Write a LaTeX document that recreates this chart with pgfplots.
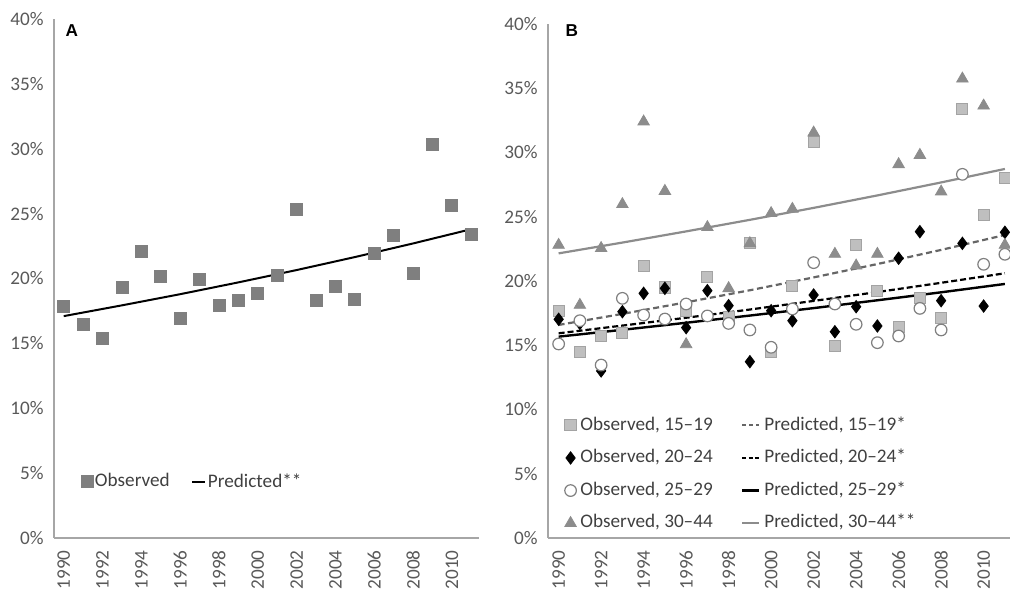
\documentclass[border=0pt]{standalone}
\usepackage{pgfplots}
\pgfplotsset{compat=1.18}
\usepackage{pgfplotstable}
\usepackage{fontspec}
\setmainfont{Carlito}
\newfontfamily\arialfont{Liberation Sans}
\definecolor{axgray}{HTML}{A6A6A6}
\definecolor{tickgray}{HTML}{595959}
\definecolor{leggray}{HTML}{404040}
\definecolor{sqA}{HTML}{7F7F7F}
\definecolor{sqB}{HTML}{BFBFBF}
\definecolor{sqBedge}{HTML}{A3A3A3}
\definecolor{triB}{HTML}{8C8C8C}
\definecolor{circB}{HTML}{7F7F7F}
\definecolor{lineA}{HTML}{666666}
\definecolor{lineD}{HTML}{8C8C8C}

\pgfplotstableread{
year val
1990 17.83
1991 16.5
1992 15.4
1993 19.3
1994 22.05
1995 20.2
1996 16.95
1997 19.96
1998 17.9
1999 18.3
2000 18.85
2001 20.27
2002 25.3
2003 18.3
2004 19.37
2005 18.37
2006 21.95
2007 23.3
2008 20.4
2009 30.3
2010 25.65
2011 23.4
}\obsA

\pgfplotstableread{
year val
1990 17.1
1993 17.93
1996 18.79
1999 19.70
2002 20.65
2005 21.65
2008 22.70
2011 23.80
}\predA

\pgfplotstableread{
year sq di ci tr
1990 17.67 17.02 15.10 22.80
1991 14.50 16.70 16.91 18.13
1992 15.74 13.00 13.46 22.55
1993 15.93 17.61 18.65 25.97
1994 21.19 19.04 17.35 32.40
1995 19.50 19.43 17.04 27.00
1996 17.67 16.37 18.21 15.07
1997 20.29 19.25 17.28 24.18
1998 17.22 18.08 16.70 19.43
1999 22.98 13.72 16.19 22.93
2000 14.50 17.69 14.84 25.27
2001 19.60 16.91 17.82 25.60
2002 30.84 18.91 21.43 31.54
2003 14.94 16.05 18.21 22.10
2004 22.80 18.00 16.63 21.19
2005 19.25 16.50 15.20 22.10
2006 16.40 21.77 15.72 29.08
2007 18.65 23.84 17.87 29.80
2008 17.10 18.47 16.19 26.95
2009 33.36 22.93 28.30 35.74
2010 25.11 18.05 21.30 33.64
2011 28.04 23.79 22.08 22.80
}\obsB

\pgfplotstableread{
year p1 p2 p3 p4
1990 16.58 15.93 15.67 22.15
1993 17.44 16.53 16.20 22.99
1996 18.34 17.14 16.75 23.86
1999 19.28 17.78 17.31 24.76
2002 20.28 18.45 17.89 25.69
2005 21.32 19.14 18.50 26.66
2008 22.42 19.86 19.12 27.67
2011 23.58 20.60 19.77 28.72
}\predB

\pgfplotsset{
  markimg/.style={legend image code/.code={\draw[mark repeat=2,mark phase=2,##1] plot coordinates {(0pt,0pt) (3pt,0pt) (6pt,0pt)};}},
  lineimg/.style={legend image code/.code={\draw[##1] (0pt,0pt) -- (8.5pt,0pt);}},
  lineimgA/.style={legend image code/.code={\draw[##1] (0pt,0pt) -- (6.5pt,0pt);}},
  base/.style={
    scale only axis,
    axis lines=left,
    axis line style={-, draw=axgray, line width=0.6pt},
    every inner x axis line/.append style={-},
    every inner y axis line/.append style={-},
    ymin=0, ymax=40,
    ytick={0,5,10,15,20,25,30,35,40},
    yticklabels={0\%,5\%,10\%,15\%,20\%,25\%,30\%,35\%,40\%},
    xtick={1990,1992,1994,1996,1998,2000,2002,2004,2006,2008,2010},
    xticklabels={1990,1992,1994,1996,1998,2000,2002,2004,2006,2008,2010},
    major tick length=0pt,
    tick label style={font=\fontsize{9.6}{11}\selectfont, text=tickgray},
    yticklabel style={inner sep=0pt, xshift=-5pt},
    xticklabel style={inner sep=0pt, yshift=-6pt, rotate=90, anchor=east},
    legend cell align=left,
    clip=false,
  },
}

\begin{document}
\begin{tikzpicture}
\begin{axis}[base, at={(27pt,27.5pt)}, anchor=south west,
  width=212.5pt, height=259.5pt, xmin=1989.5, xmax=2011.4,
  legend columns=2,
  legend style={draw=none, fill=none, inner sep=0pt,
    font=\fontsize{9.6}{11}\selectfont, text=leggray,
    at={(rel axis cs:0.0635,0.1085)}, anchor=west,
    nodes={inner sep=0.8pt, anchor=west},
    /tikz/every even column/.append style={column sep=10pt}},
]
\addplot[only marks, mark=square*, mark size=3pt, mark options={fill=sqA, draw=sqA}, markimg] table[x=year, y=val] {\obsA};
\addlegendentry{Observed}
\addplot[black, line width=1pt, lineimgA] table[x=year, y=val] {\predA};
\addlegendentry{Predicted**}
\node[font=\arialfont\bfseries\fontsize{8.6}{9}\selectfont, text=black] at (rel axis cs:0.042,0.977) {A};
\end{axis}

\begin{axis}[base, at={(274pt,27.5pt)}, anchor=south west,
  width=233.75pt, height=257pt, xmin=1989.5, xmax=2011.5,
  legend columns=2,
  legend style={draw=none, fill=none, inner sep=0pt,
    font=\fontsize{9.6}{11}\selectfont, text=leggray,
    at={(rel axis cs:0.035,0.124)}, anchor=west,
    row sep=5.5pt,
    nodes={inner sep=0.8pt, anchor=west, text height=7pt, text depth=2.2pt},
    /tikz/every odd column/.append style={column sep=1.2pt},
    /tikz/every even column/.append style={column sep=13.3pt}},
]
% predicted lines (drawn first)
\addplot[forget plot, lineD, line width=1.1pt] table[x=year, y=p4] {\predB};
\addplot[forget plot, lineA, line width=1.1pt, dash pattern=on 3pt off 1.8pt] table[x=year, y=p1] {\predB};
\addplot[forget plot, black, line width=1.1pt, dash pattern=on 3pt off 1.5pt] table[x=year, y=p2] {\predB};
\addplot[forget plot, black, line width=1.2pt] table[x=year, y=p3] {\predB};
% observed
\addplot[forget plot, only marks, mark=square*, mark size=2.8pt, mark options={fill=sqB, draw=sqBedge, line width=0.5pt}] table[x=year, y=sq] {\obsB};
\addplot[forget plot, only marks, mark=diamond*, mark size=3.1pt, mark options={fill=black, draw=black}] table[x=year, y=di] {\obsB};
\addplot[forget plot, only marks, mark=*, mark size=2.9pt, mark options={fill=white, draw=circB, line width=0.6pt}] table[x=year, y=ci] {\obsB};
\addplot[forget plot, only marks, mark=triangle*, mark size=3.3pt, mark options={fill=triB, draw=triB}] table[x=year, y=tr] {\obsB};
% legend
\addlegendimage{only marks, mark=square*, mark size=2.8pt, mark options={fill=sqB, draw=sqBedge, line width=0.5pt}, markimg}
\addlegendentry{Observed, 15–19}
\addlegendimage{lineA, line width=1.1pt, dash pattern=on 2pt off 1.5pt, lineimg}
\addlegendentry{Predicted, 15–19*}
\addlegendimage{only marks, mark=diamond*, mark size=3.1pt, mark options={fill=black, draw=black}, markimg}
\addlegendentry{Observed, 20–24}
\addlegendimage{black, line width=1.1pt, dash pattern=on 2pt off 1.2pt, lineimg}
\addlegendentry{Predicted, 20–24*}
\addlegendimage{only marks, mark=*, mark size=2.9pt, mark options={fill=white, draw=circB, line width=0.6pt}, markimg}
\addlegendentry{Observed, 25–29}
\addlegendimage{black, line width=1.2pt, lineimg}
\addlegendentry{Predicted, 25–29*}
\addlegendimage{only marks, mark=triangle*, mark size=3.3pt, mark options={fill=triB, draw=triB}, markimg}
\addlegendentry{Observed, 30–44}
\addlegendimage{lineD, line width=1.1pt, lineimg}
\addlegendentry{Predicted, 30–44**}
\node[font=\arialfont\bfseries\fontsize{8.6}{9}\selectfont, text=black] at (rel axis cs:0.051,0.988) {B};
\end{axis}
\pgfresetboundingbox
\useasboundingbox (0,0) rectangle (505pt,296.5pt);
\end{tikzpicture}
\end{document}
